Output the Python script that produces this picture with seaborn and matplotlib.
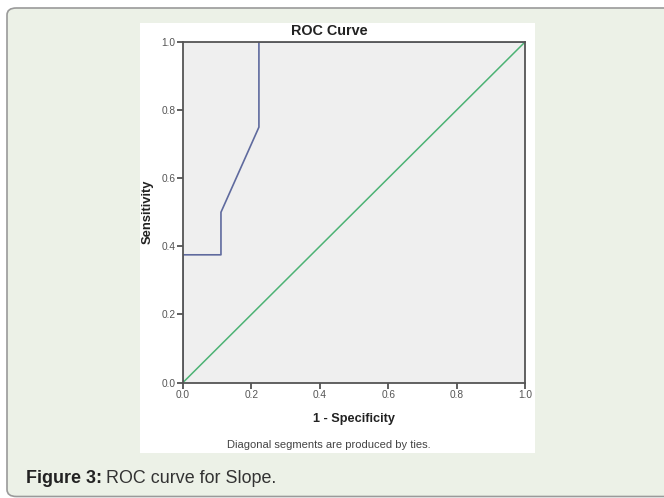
import matplotlib
matplotlib.use("Agg")
import matplotlib.pyplot as plt
import seaborn as sns
import pandas as pd
from matplotlib.patches import FancyBboxPatch, Rectangle

# Data
fpr = [0.0, 0.0, 0.111, 0.111, 0.222, 0.222, 1.0]
tpr = [0.0, 0.375, 0.375, 0.5, 0.75, 1.0, 1.0]
ref_x = [0.0, 1.0]
ref_y = [0.0, 1.0]
ticks = [0.0, 0.2, 0.4, 0.6, 0.8, 1.0]
tick_labels = ["0.0", "0.2", "0.4", "0.6", "0.8", "1.0"]

sns.set_style("white")
plt.rcParams['font.family'] = ['Liberation Sans', 'DejaVu Sans']

W, H = 664, 498
fig = plt.figure(figsize=(W / 100, H / 100), dpi=100)
fig.patch.set_facecolor("white")

# outer rounded panel
bg = FancyBboxPatch((7 / W, 1.5 / H), 1.2, (497 - 7 - 1.5) / H,
                    boxstyle="round,pad=0,rounding_size=0.014",
                    transform=fig.transFigure, facecolor="#ecf1e7",
                    edgecolor="#9a9a9a", linewidth=1.2, zorder=-2)
fig.patches.append(bg)
# inner white panel
wp = Rectangle((140 / W, 1 - 453 / H), (535 - 140) / W, (453 - 23) / H,
               transform=fig.transFigure, facecolor="white", edgecolor="none", zorder=-1)
fig.patches.append(wp)

ax = fig.add_axes([183 / W, 1 - 382.5 / H, (525 - 183) / W, (382.5 - 42) / H])
ax.set_facecolor("#efefef")
ax.set_zorder(1)

roc = pd.DataFrame({"fpr": fpr, "tpr": tpr})
diag = pd.DataFrame({"x": ref_x, "y": ref_y})
sns.lineplot(data=diag, x="x", y="y", ax=ax, color="#4cb274", linewidth=1.1,
             sort=False, estimator=None)
sns.lineplot(data=roc, x="fpr", y="tpr", ax=ax, color="#5f6a9e", linewidth=1.2,
             sort=False, estimator=None)

ax.set_xlim(0, 1)
ax.set_ylim(0, 1)
ax.set_xticks(ticks)
ax.set_xticklabels(tick_labels)
ax.set_yticks(ticks)
ax.set_yticklabels(tick_labels)
ax.tick_params(axis="both", length=4, width=1.2, color="#444444", labelsize=7.3,
               labelcolor="#555555", pad=1.5, direction="out")
ax.tick_params(bottom=True, left=True)
for s in ax.spines.values():
    s.set_color("#555555")
    s.set_linewidth(1.3)
ax.set_xlabel("")
ax.set_ylabel("")

fig.text(329 / W, 1 - 31 / H, "ROC Curve", ha="center", va="center",
         fontsize=10.4, fontweight="bold", color="#222222")
fig.text(354 / W, 1 - 421.7 / H, "1 - Specificity", ha="center", va="baseline",
         fontsize=9.2, fontweight="bold", color="#222222")
fig.text(147.5 / W, 1 - 212 / H, "Sensitivity", ha="center", va="center",
         rotation=90, fontsize=9.4, fontweight="bold", color="#222222")
fig.text(329 / W, 1 - 448.3 / H, "Diagonal segments are produced by ties.",
         ha="center", va="baseline", fontsize=8.0, color="#444444")

t1 = fig.text(26 / W, 1 - 482.7 / H, "Figure 3:", ha="left", va="baseline",
              fontsize=12.9, fontweight="bold", color="#222222")
fig.canvas.draw()
bb = t1.get_window_extent()
fig.text(bb.x1 / W + 4 / W, 1 - 482.7 / H, "ROC curve for Slope.", ha="left", va="baseline",
         fontsize=12.9, color="#333333")

fig.savefig("out.png", dpi=100)
